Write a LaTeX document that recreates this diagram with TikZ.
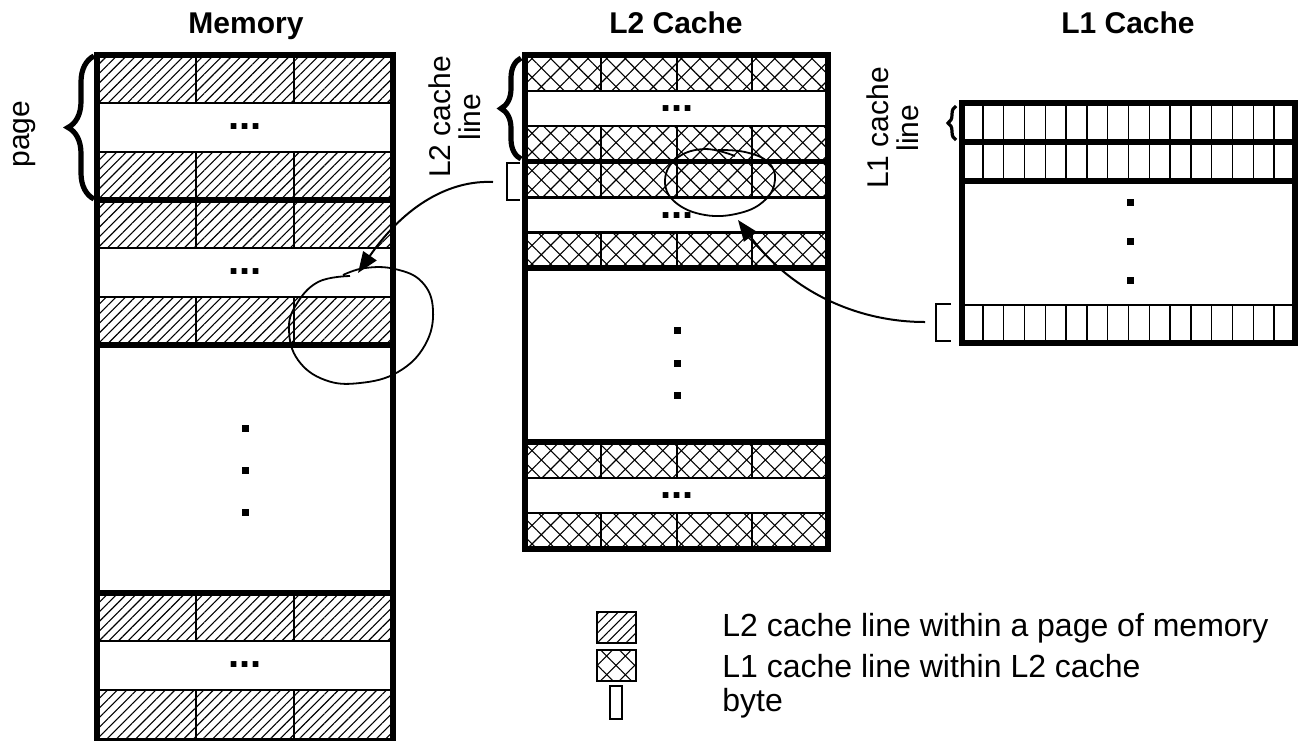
\documentclass[tikz,border=0pt]{standalone}
\usepackage{fontspec}
\setmainfont{Liberation Sans}
\usepackage{tikz}
\usetikzlibrary{arrows.meta,patterns.meta,decorations.pathreplacing}

\begin{document}
\begin{tikzpicture}[x=0.5pt,y=-0.5pt,>={Triangle[length=10.5pt,width=8pt]},line join=miter,
  thickline/.style={line width=2.6pt},
  midline/.style={line width=1.2pt},
  thinline/.style={line width=0.7pt},
  memhatch/.style={pattern={Lines[angle=45,distance=3.4pt,line width=0.55pt]}},
  l1hatch/.style={pattern={Lines[angle=45,distance=6.6pt,line width=0.55pt]},
    postaction={pattern={Lines[angle=-45,distance=6.6pt,line width=0.55pt]}}},
  title/.style={font=\fontsize{15}{15}\selectfont\bfseries,anchor=base},
  sidelabel/.style={font=\fontsize{15}{15}\selectfont,rotate=90,align=center},
  legtext/.style={font=\fontsize{16}{16}\selectfont,anchor=west,inner sep=0pt},
  hdots/.style={font=\fontsize{20}{20}\selectfont\bfseries,inner sep=0pt},
  bracebig/.style={decorate,line width=2.6pt,decoration={brace,amplitude=#1}},
  loopline/.style={line width=0.9pt,smooth,tension=0.7}]
  \useasboundingbox (0,0) rectangle (1300,740);
  % titles
  \node[title] (tmem) at (246,33) {Memory};
  \node[title] (tl2) at (676,33) {L2 Cache};
  \node[title] (tl1) at (1128,33) {L1 Cache};
  % memory
  \foreach \a in {55,200,593}{
    \path[memhatch] (97,\a) rectangle (393,\a+48);
    \path[memhatch] (97,\a+97) rectangle (393,\a+145);
    \draw[midline] (97,\a+48) -- (393,\a+48) (97,\a+97) -- (393,\a+97);
    \foreach \x in {196,294}
      \draw[midline] (\x,\a) -- (\x,\a+48) (\x,\a+97) -- (\x,\a+145);
    \node[hdots] (mdots\a) at (245,\a+72) {...};
  }
  \draw[thickline] (97,55) rectangle (393,741);
  \draw[thickline] (97,200) -- (393,200) (97,345) -- (393,345) (97,593) -- (393,593);
  \foreach \y in {428,470,512}
    \fill (241.5,\y-3.5) rectangle ++(7,7);
  % L2 cache
  \foreach \a in {55,161.5,442}{
    \path[l1hatch] (525,\a) rectangle (828,\a+36);
    \path[l1hatch] (525,\a+71) rectangle (828,\a+107);
    \draw[midline] (525,\a+36) -- (828,\a+36) (525,\a+71) -- (828,\a+71);
    \foreach \x in {601,677,752}
      \draw[midline] (\x,\a) -- (\x,\a+36) (\x,\a+71) -- (\x,\a+107);
    \node[hdots] (ldots\a) at (677,\a+54) {...};
  }
  \draw[thickline] (525,55) rectangle (828,549);
  \draw[thickline] (525,161.5) -- (828,161.5) (525,268) -- (828,268) (525,442) -- (828,442);
  \foreach \y in {330,363,395}
    \fill (673.5,\y-3.5) rectangle ++(7,7);
  % L1 cache
  \foreach \i in {1,...,15}
    \draw[thinline] ({962+\i*20.8},103) -- ++(0,78) ({962+\i*20.8},305) -- ++(0,38);
  \draw[midline] (962,305) -- (1295,305);
  \draw[thickline] (962,103) rectangle (1295,343);
  \draw[thickline] (962,142) -- (1295,142) (962,181) -- (1295,181);
  \foreach \y in {202,241,280}
    \fill (1126.5,\y-3.5) rectangle ++(7,7);
  % braces and labels
  \draw[bracebig=13pt] (94,199) -- (94,56);
  \node[sidelabel] (lpage) at (25,134) {page};
  \draw[bracebig=10pt] (521,159) -- (521,58);
  \node[sidelabel] (ll2) at (455,117) {L2 cache\\line};
  \draw[decorate,line width=1.6pt,decoration={brace,amplitude=4pt}] (956,140) -- (956,106);
  \node[sidelabel] (ll1) at (893,128) {L1 cache\\line};
  \draw[midline] (520,163) -- (507,163) -- (507,200) -- (520,200);
  \draw[midline] (951,304) -- (936,304) -- (936,341) -- (951,341);
  % loops and arrows
  \coordinate (l2brk) at (493,182);
  \coordinate (memtip) at (358,273);
  \coordinate (l1brk) at (925,322);
  \coordinate (l2tip) at (738,220);
  \draw[loopline] plot coordinates {(350,276) (318,282) (296,305) (289,330) (298,360)
    (325,380) (360,383) (398,372) (425,345) (433,310) (422,282) (395,269) (365,268) (343,275)};
  \draw[loopline] plot coordinates {(735,156) (705,149) (677,158) (665,180) (675,202)
    (705,215) (740,213) (765,200) (775,180) (768,162) (745,152) (718,150)};
  \draw[->,line width=1pt] (l2brk) .. controls (450,180) and (405,205) .. (memtip);
  \draw[->,line width=1pt] (l1brk) .. controls (855,322) and (790,290) .. (l2tip);
  % legend
  \draw[memhatch,thinline] (597,612) rectangle (636,643);
  \draw[l1hatch,thinline] (597,650) rectangle (636,681);
  \draw[thinline] (610,686) rectangle (622,719);
  \node[legtext] (leg1) at (722,628) {L2 cache line within a page of memory};
  \node[legtext] (leg2) at (722,666) {L1 cache line within L2 cache};
  \node[legtext] (leg3) at (722,703) {byte};
\end{tikzpicture}
\end{document}
